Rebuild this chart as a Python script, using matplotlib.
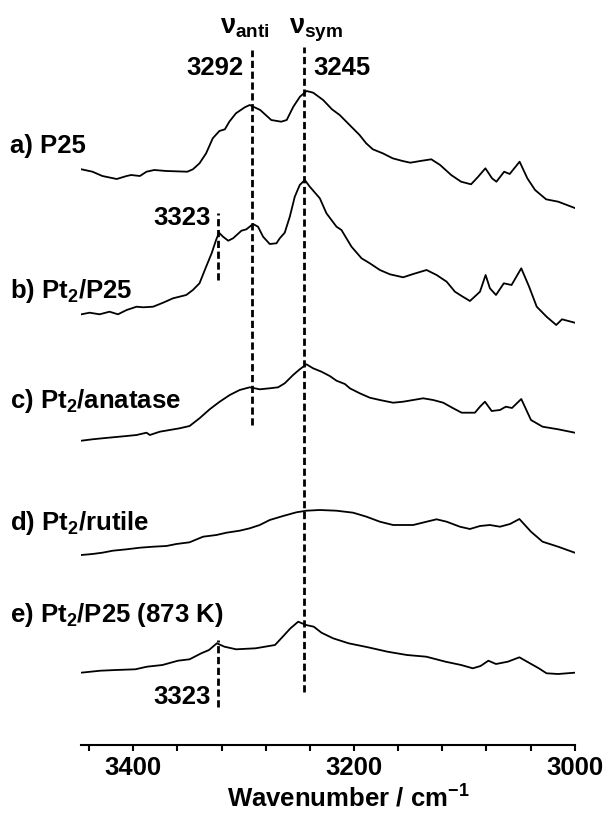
import matplotlib
matplotlib.use("Agg")
import matplotlib.pyplot as plt
from matplotlib.ticker import MultipleLocator
import numpy as np

plt.rcParams['font.family'] = ['Liberation Sans', 'DejaVu Sans']
plt.rcParams['font.weight'] = 'bold'
plt.rcParams['mathtext.fontset'] = 'custom'
plt.rcParams['mathtext.rm'] = 'Liberation Sans:bold'
plt.rcParams['mathtext.it'] = 'Liberation Sans:bold'
plt.rcParams['mathtext.bf'] = 'Liberation Sans:bold'

# ---------------- data (wavenumber / cm-1, intensity a.u.) ----------------
labels = ["a) P25", "b) Pt$_2$/P25", "c) Pt$_2$/anatase", "d) Pt$_2$/rutile", "e) Pt$_2$/P25 (873 K)"]

wn_a = [3447, 3437, 3428, 3415, 3406, 3402, 3394, 3388, 3381, 3370, 3351, 3346, 3340, 3334, 3328,
        3322, 3317, 3313, 3307, 3299, 3294.5, 3285, 3275, 3266, 3261, 3255, 3249, 3243, 3237, 3228,
        3220, 3213, 3204, 3195, 3189, 3183, 3174, 3165, 3156, 3149, 3140, 3130, 3122, 3112, 3103,
        3094, 3088, 3081, 3075, 3071, 3064, 3059, 3050, 3043, 3036, 3026, 3015, 3000]
int_a = [38.7, 36.3, 32, 29, 32, 33, 32, 36.3, 38, 37, 36.3, 38.7, 44.7, 54.7, 69.7,
         77, 78.7, 86.3, 94.7, 100.7, 103, 98, 88, 86.3, 88, 101.3, 111.3, 117, 115.3, 108,
         98.7, 93, 83, 73, 64.7, 58.7, 54.7, 49.7, 47, 45.3, 47, 48.7, 43, 33, 26.3,
         23.7, 30.7, 39.7, 29.7, 26.3, 36.3, 34, 46.3, 29.7, 18, 8.7, 6.3, 0]

wn_b = [3447, 3439.6, 3430.5, 3421.5, 3413.9, 3406, 3397, 3391, 3382, 3373, 3364, 3352, 3346, 3340,
        3334, 3329, 3325, 3322.3, 3318.7, 3314, 3309.6, 3302, 3297.5, 3291.5, 3287, 3282.4, 3276.4,
        3270.3, 3267.3, 3262.8, 3258.2, 3253.7, 3249.2, 3244.6, 3240.1, 3231, 3225, 3215.9, 3211.4,
        3202.3, 3193.2, 3185.7, 3176.6, 3167.5, 3155.5, 3146.4, 3134.3, 3125.2, 3116.1, 3108.6,
        3102.5, 3095, 3085.9, 3080.8, 3076.9, 3071.4, 3064.3, 3057.3, 3048.5, 3041.4, 3034.5,
        3025.6, 3016.8, 3011.6, 3000]
int_b = [8.7, 10.3, 8.7, 11.3, 8.7, 13, 16.3, 15.7, 16.3, 20.3, 24.7, 28, 33, 39.7,
         56.3, 69.7, 83, 90.3, 86.3, 82.3, 84.7, 92.3, 93.7, 99, 96.3, 86.3, 79,
         79.7, 84.7, 90.3, 106.3, 126.3, 138, 143, 136.3, 124.7, 109.7, 96.3, 93,
         76.3, 64.7, 59.7, 53, 48.7, 45.7, 49, 53, 48, 41.3, 31.3,
         27, 22, 31.3, 48, 34.7, 28, 39.7, 38, 54.7, 36.3, 16.3,
         6.3, -2, 3.7, 0.3]

wn_c = [3447, 3437, 3428, 3418.5, 3406, 3397, 3388, 3385, 3376, 3367, 3358, 3349, 3340, 3330.8,
        3321.7, 3312.6, 3303.6, 3294.5, 3285.4, 3276.4, 3268.8, 3262.8, 3255.2, 3249.2, 3243.1,
        3237.1, 3229.5, 3222, 3215.9, 3208.3, 3203.8, 3194.8, 3185.7, 3176.6, 3164.6, 3155.5,
        3146.4, 3137.4, 3128.3, 3119.2, 3110.1, 3102.5, 3090.5, 3085.9, 3081.4, 3075.3, 3067.8,
        3062.5, 3056.9, 3048.5, 3039.7, 3029.2, 3015.1, 3000]
int_c = [-7.7, -6.3, -5.3, -4.3, -3, -2, 0.3, -2, 1.3, 3, 4.7, 7, 14.7, 23.7,
         31.3, 38, 43, 45.7, 43.7, 44.7, 45.7, 49.7, 58, 63.7, 68.7,
         64.7, 61.3, 57, 52.3, 49, 44.7, 39.7, 35.3, 33, 30.3, 31.3,
         33, 34.7, 33, 30.3, 24.7, 20.3, 20.3, 26.3, 31.3, 22, 23,
         26.3, 25, 34, 13, 6.3, 3.7, 0.3]

wn_d = [3447, 3437, 3428, 3418.5, 3406, 3394, 3382, 3370, 3361, 3349, 3336.8, 3324.7, 3315.6,
        3303.6, 3294.5, 3285.4, 3276.4, 3264.3, 3252.2, 3243.1, 3231, 3215.9, 3200.8, 3188.7,
        3176.6, 3164.6, 3146.4, 3134.3, 3125.2, 3116.1, 3104.1, 3095, 3085.9, 3076.9, 3067.8,
        3058.7, 3050.2, 3039.7, 3029.2, 3015.1, 3000]
int_d = [-2, -1, 0.3, 2.3, 3.7, 5.3, 6.3, 7, 9, 10.7, 16.3, 18, 20.3,
         22.3, 24.7, 28, 33, 37, 40.7, 42.3, 43, 42.3, 40.3, 36.3,
         31.3, 28, 28, 31.3, 33.7, 31.3, 26.3, 24, 27, 28, 26.3,
         29, 34, 21.3, 11.3, 6.3, 0.3]

wn_e = [3447.4, 3429.8, 3415.7, 3398.2, 3387.6, 3373.6, 3359.5, 3349, 3338.4, 3331.4, 3324.3,
        3317.4, 3306.8, 3289.2, 3271.6, 3264.6, 3257.6, 3250.6, 3243.5, 3236.5, 3229.5, 3219,
        3204.9, 3187.3, 3169.7, 3152.1, 3134.5, 3117.1, 3103, 3092.4, 3085.4, 3078.3, 3071.4,
        3060.7, 3050.2, 3043.2, 3032.6, 3025.6, 3015.1, 3000]
int_e = [0.3, 2.3, 3, 3.7, 6.3, 8, 12.3, 13.7, 19.7, 23, 29.7,
         26.3, 23.7, 24.7, 28, 36.3, 44.7, 51.3, 48, 46.3, 40.3, 34.7,
         29.7, 25.7, 21.3, 18, 16.3, 11.3, 8, 4.7, 7, 12.3, 9,
         11.3, 15.7, 11.3, 4.7, -0.3, -1, 0.3]

wavenumbers = [wn_a, wn_b, wn_c, wn_d, wn_e]
intensities = [int_a, int_b, int_c, int_d, int_e]

peak_anti = 3292
peak_sym = 3245
peak_pt = 3323
xticks_major = [3400, 3200, 3000]

# ---------------- layout ----------------
W, H = 606, 814
offsets = [537, 422, 312, 192, 72]
label_baselines_px = [153, 298, 408, 530, 622]

fig = plt.figure(figsize=(W / 100, H / 100), dpi=100)
ax = fig.add_axes([81.4 / W, 69 / H, 493.4 / W, 745 / H])
ax.set_xlim(3447, 3000)
ax.set_ylim(0, 745)

for wn, it, off in zip(wavenumbers, intensities, offsets):
    ax.plot(wn, np.array(it) + off, color='black', lw=1.3, solid_joinstyle='round')

dash = (0, (2.6, 1.3))
ax.plot([peak_anti, peak_anti], [320, 695], color='black', lw=2.0, linestyle=dash)
ax.plot([peak_sym, peak_sym], [53, 698], color='black', lw=2.0, linestyle=dash)
ax.plot([peak_pt, peak_pt], [465, 532], color='black', lw=2.0, linestyle=dash)
ax.plot([peak_pt, peak_pt], [38, 105], color='black', lw=2.0, linestyle=dash)

fs = 18.5
def fy(px):
    return 1 - px / H

for lab, b in zip(labels, label_baselines_px):
    fig.text(10 / W, fy(b), lab, fontsize=fs, ha='left', va='baseline')

ax.text(peak_anti + 8, 745 - 75, str(peak_anti), fontsize=fs, ha='right', va='baseline')
ax.text(peak_sym - 8, 745 - 75, str(peak_sym), fontsize=fs, ha='left', va='baseline')
ax.text(peak_pt + 7, 745 - 225, str(peak_pt), fontsize=fs, ha='right', va='baseline')
ax.text(peak_pt + 7, 745 - 704, str(peak_pt), fontsize=fs, ha='right', va='baseline')
ax.text(peak_anti + 7, 745 - 33, r'$\mathrm{ν_{anti}}$', fontsize=fs + 1, ha='center', va='baseline')
ax.text(peak_sym - 11, 745 - 33, r'$\mathrm{ν_{sym}}$', fontsize=fs + 1, ha='center', va='baseline')

for s in ['left', 'right', 'top']:
    ax.spines[s].set_visible(False)
ax.spines['bottom'].set_linewidth(1.5)
ax.set_yticks([])
ax.xaxis.set_major_locator(MultipleLocator(200))
ax.xaxis.set_minor_locator(MultipleLocator(40))
ax.tick_params(axis='x', which='both', direction='out', length=4, width=1.5, labelsize=fs, pad=4)
ax.set_xticks(xticks_major)

fig.text(348 / W, fy(807), r'Wavenumber / cm$^{\mathregular{-1}}$', fontsize=fs, ha='center', va='baseline')

fig.savefig('out.png', dpi=100)
